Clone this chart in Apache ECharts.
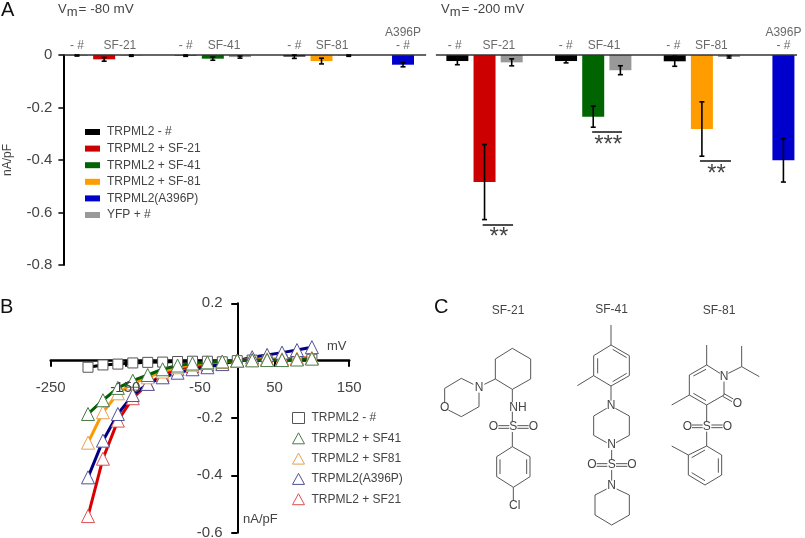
<!DOCTYPE html>
<html><head><meta charset="utf-8">
<style>html,body{margin:0;padding:0;background:#fff}#c{width:805px;height:538px}</style>
<script src="https://cdn.jsdelivr.net/npm/echarts@6/dist/echarts.min.js"></script>
</head><body><div id="c"></div>
<script>
// Panel A: [slot, mean, error]. Slots 0-12 are Vm=-80 mV, slots 14-26 are Vm=-200 mV.
const barsBlack  = [[0,-0.001,0.003],[4,-0.002,0.003],[8,-0.006,0.007],[14,-0.023,0.014],[18,-0.023,0.007],[22,-0.024,0.019]];
const barsRed    = [[1,-0.0165,0.007],[15,-0.484,0.143]];
const barsGreen  = [[5,-0.014,0.006],[19,-0.235,0.04]];
const barsOrange = [[9,-0.023,0.011],[23,-0.282,0.1035]];
const barsBlue   = [[12,-0.037,0.008],[26,-0.401,0.083]];
const barsGrey   = [[2,-0.002,0.003],[6,-0.008,0.004],[10,-0.002,0.003],[16,-0.028,0.0133],[20,-0.058,0.017],[24,-0.0076,0.004]];
const groupLabels = ['- #','SF-21','- #','SF-41','- #','SF-81','A396P\n- #','- #','SF-21','- #','SF-41','- #','SF-81','A396P\n- #'];
const groupSlots  = [0,1.58,4,5.41,8,9.39,12,13.9,15.53,17.99,19.4,21.95,23.35,26];
const sigLabels = ['**','***','**'];
const sigSlots  = [[14.93,16.05],[18.96,20.06],[22.93,24.07]];
const sigLevels = [-0.645,-0.293,-0.404];

// Panel B: I-V curves
const voltage = [-200,-180,-160,-140,-120,-100,-80,-60,-40,-20,0,20,40,60,80,100];
const ivBlack  = [-0.023,-0.015,-0.012,-0.008,-0.006,-0.005,-0.003,-0.002,-0.002,-0.004,0,0.002,0.002,0.004,0.004,0.005];
const ivGreen  = [-0.186,-0.138,-0.095,-0.07,-0.05,-0.03,-0.017,-0.01,-0.006,-0.003,0,0.001,0.002,0.002,0.004,0.007];
const ivOrange = [-0.286,-0.18,-0.114,-0.079,-0.058,-0.038,-0.023,-0.014,-0.008,-0.004,0,0.004,0.005,0.005,0.007,0.01];
const ivBlue   = [-0.407,-0.279,-0.186,-0.12,-0.081,-0.058,-0.042,-0.03,-0.023,-0.012,0,0.012,0.02,0.028,0.037,0.047];
const ivRed    = [-0.542,-0.342,-0.209,-0.131,-0.081,-0.05,-0.03,-0.019,-0.014,-0.007,0,0.004,0.005,0.006,0.008,0.01];

const FONT = 'Liberation Sans', TXT = '#444';

function barSeries(name, color, rows){
  return {type:'bar',name,xAxisIndex:0,yAxisIndex:0,barWidth:22,barGap:'-100%',
    itemStyle:{color},data:rows.map(r=>[r[0],r[1]])};
}
const allBars = [].concat(barsBlack,barsRed,barsGreen,barsOrange,barsBlue,barsGrey);

function ivSeries(name, color, border, vals, symbol, size){
  return {type:'line',name:'B '+name,xAxisIndex:1,yAxisIndex:1,data:voltage.map((v,i)=>[v,vals[i]]),
    symbol,symbolSize:size,showAllSymbol:true,clip:false,
    lineStyle:{color,width:3},itemStyle:{color:'#fff',borderColor:border,borderWidth:1}};
}
function legendB(name,icon,border){
  return {name:'B '+name,icon,itemStyle:{color:'#fff',borderColor:border,borderWidth:1},lineStyle:{opacity:0,width:0}};
}

// Panel C: chemical structures, drawn in a 3x local space
const OX=430, OY=290;
const bonds = [
 // SF-21
 [[247,175],[302,207],[302,267],[247,298],[196,267],[196,207],[247,175]],
 [[130,283],[94,265],[44,295],[44,338]],[[55,360],[94,380],[147,350],[147,308]],[[163,283],[196,267]],
 [[247,298],[247,337]],[[247,365],[247,395]],[[205,407],[238,407]],[[205,415],[238,415]],[[262,407],[296,407]],[[262,415],[296,415]],
 [[247,426],[247,470]],[[247,470],[300,500],[300,560],[250,592],[200,560],[200,500],[247,470]],
 [[290,508],[290,552]],[[210,508],[210,552]],[[250,630],[250,592]],
 // SF-41
 [[543,105],[543,165]],[[543,165],[598,197],[598,257],[543,288],[491,257],[491,197],[543,165]],
 [[503,205],[503,250]],[[548,178],[590,203]],[[548,275],[590,250]],[[491,257],[442,287]],[[543,288],[543,332]],
 [[530,355],[491,378],[491,436],[530,458]],[[556,355],[598,378],[598,436],[558,458]],[[545,480],[545,510]],
 [[500,521],[532,521]],[[500,529],[532,529]],[[558,521],[592,521]],[[558,529],[592,529]],[[545,540],[545,572]],
 [[530,597],[495,615],[495,675],[545,705],[598,675],[598,615],[560,597]],
 // SF-81
 [[870,250],[830,225],[778,255],[778,315],[830,345],[882,315],[882,275]],[[790,258],[828,238]],[[790,310],[828,332]],
 [[830,225],[830,165]],[[895,250],[935,230]],[[935,230],[935,168]],[[935,230],[988,260]],
 [[882,311],[910,327]],[[878,319],[906,335]],[[778,315],[725,345]],[[830,345],[830,395]],
 [[786,405],[818,405]],[[786,413],[818,413]],[[844,405],[878,405]],[[844,413],[878,413]],[[830,425],[830,468]],
 [[830,468],[875,495],[875,555],[825,585],[775,555],[775,495],[830,468]],[[865,505],[865,548]],[[825,572],[785,548]],[[825,480],[785,503]],[[775,495],[725,468]]
];
const atoms = [['N',147,293],['O',44,352],['NH',264,352],['S',250,411],['O',190,411],['O',310,411],['Cl',254,647],
 ['N',543,347],['N',545,465],['S',545,525],['O',486,525],['O',606,525],['N',545,588],
 ['N',882,260],['O',922,340],['S',830,409],['O',772,409],['O',892,409]];

const graphics = [];
bonds.forEach(pts=>graphics.push({type:'polyline',silent:true,
  shape:{points:pts.map(p=>[OX+p[0]/3,OY+p[1]/3])},style:{stroke:'#444',lineWidth:0.9,fill:null}}));
atoms.forEach(a=>graphics.push({type:'text',silent:true,x:OX+a[1]/3,y:OY+a[2]/3,
  style:{text:a[0],font:'12px '+FONT,fill:'#444',align:'center',verticalAlign:'middle'}}));
function txt(text,x,y,size,align,color){
  graphics.push({type:'text',silent:true,x,y,style:{text,font:size+'px '+FONT,fill:color||TXT,align:align||'left',verticalAlign:'middle'}});
}
txt('A',1,10,20,'left','#111');txt('B',0,307,20,'left','#111');txt('C',434,307,20,'left','#111');
txt('SF-21',508,311,12,'center');txt('SF-41',611.5,310,12,'center');txt('SF-81',719,311,12,'center');
txt('mV',327,346,13);txt('nA/pF',243,519,13);
function vm(rest,x){
  graphics.push({type:'text',silent:true,x,y:9,style:{
    text:'{v|V}{m|m}{t|'+rest+'}',verticalAlign:'middle',
    rich:{v:{font:'13px '+FONT,fill:TXT},m:{font:'13px '+FONT,fill:TXT,padding:[6,0,0,0]},t:{font:'13.5px '+FONT,fill:TXT,padding:[0,0,0,1]}}}});
}
vm('= -80 mV',58);vm('= -200 mV',441);

const option = {
  animation:false,backgroundColor:'#fff',textStyle:{fontFamily:FONT},
  graphic:graphics,
  legend:[
   {left:80,top:121,orient:'vertical',itemWidth:15,itemHeight:6,itemGap:4.6,icon:'rect',selectedMode:false,
    textStyle:{fontFamily:FONT,fontSize:12,color:TXT,padding:[0,0,0,2]},
    data:['TRPML2 - #','TRPML2 + SF-21','TRPML2 + SF-41','TRPML2 + SF-81','TRPML2(A396P)','YFP + #']},
   {left:287,top:407,orient:'vertical',itemWidth:12,itemHeight:11,itemGap:8.3,selectedMode:false,
    formatter:n=>n.replace(/^B /,''),
    textStyle:{fontFamily:FONT,fontSize:12,color:TXT,padding:[0,0,0,2]},
    data:[legendB('TRPML2 - #','rect','#555'),legendB('TRPML2 + SF41','triangle','#4a7a4a'),
          legendB('TRPML2 + SF81','triangle','#e8a050'),legendB('TRPML2(A396P)','triangle','#505098'),
          legendB('TRPML2 + SF21','triangle','#e05050')]}
  ],
  grid:[
   {left:63.4,top:55,width:733.6,height:210,outerBoundsMode:'none'},
   {left:50.7,top:303.3,width:298.5,height:229.4,outerBoundsMode:'none'}
  ],
  xAxis:[
   {gridIndex:0,type:'value',min:-0.5,max:26.5,show:false},
   {gridIndex:1,type:'value',position:'bottom',min:-250,max:150,interval:100,splitLine:{show:false},
    axisLine:{onZero:true,lineStyle:{color:'#000',width:2.5}},
    axisTick:{length:6,lineStyle:{color:'#000',width:2}},
    axisLabel:{show:false}},
   {gridIndex:1,type:'value',position:'top',min:-250,max:150,interval:100,splitLine:{show:false},z:6,
    axisLine:{show:false,onZero:false},axisTick:{show:false},
    axisLabel:{fontSize:15,color:TXT,margin:-92,fontFamily:FONT,showMinLabel:true,showMaxLabel:true}}
  ],
  yAxis:[
   {gridIndex:0,type:'value',min:-0.8,max:0,interval:0.2,splitLine:{show:false},
    name:'nA/pF',nameLocation:'middle',nameRotate:90,nameGap:50,
    nameTextStyle:{fontSize:12,color:TXT,fontFamily:FONT},
    axisLine:{show:true,onZero:false,lineStyle:{color:'#000',width:2}},
    axisTick:{show:true,length:5,lineStyle:{color:'#000',width:1.5}},
    axisLabel:{fontSize:15,color:TXT,margin:11,fontFamily:FONT,formatter:v=>v===0?'0':v.toFixed(1)}},
   {gridIndex:1,type:'value',min:-0.6,max:0.2,interval:0.2,splitLine:{show:false},
    axisLine:{show:true,onZero:true,onZeroAxisIndex:1,lineStyle:{color:'#000',width:2}},
    axisTick:{show:true,length:6,lineStyle:{color:'#000',width:2}},
    axisLabel:{fontSize:15,color:TXT,margin:-172,fontFamily:FONT,formatter:v=>Math.abs(v)<1e-9?'':v.toFixed(1)}}
  ],
  series:[
   barSeries('TRPML2 - #','#000',barsBlack),
   barSeries('TRPML2 + SF-21','#cc0000',barsRed),
   barSeries('TRPML2 + SF-41','#006400',barsGreen),
   barSeries('TRPML2 + SF-81','#ff9c00',barsOrange),
   barSeries('TRPML2(A396P)','#0000cc',barsBlue),
   barSeries('YFP + #','#999',barsGrey),
   {type:'custom',name:'errors',xAxisIndex:0,yAxisIndex:0,clip:false,silent:true,z:5,
    data:allBars,encode:{x:0,y:1},
    renderItem(params,api){
      const x=api.value(0),m=api.value(1),e=api.value(2);
      const zero=api.coord([x,0])[1];
      const a=api.coord([x,m+e]),b=api.coord([x,m-e]);
      if(a[1]<zero)a[1]=zero;
      const st={stroke:'#000',lineWidth:1.6};
      const line=(x1,y1,x2,y2)=>({type:'line',shape:{x1,y1,x2,y2},style:st});
      return {type:'group',children:[line(a[0],a[1],b[0],b[1]),line(a[0]-2.5,a[1],a[0]+2.5,a[1]),line(b[0]-2.5,b[1],b[0]+2.5,b[1])]};
    }},
   {type:'scatter',name:'labels',xAxisIndex:0,yAxisIndex:0,clip:false,silent:true,symbolSize:0,
    data:groupLabels.map((l,i)=>({value:[groupSlots[i],0],name:l})),
    label:{show:true,position:'top',distance:3,formatter:'{b}',fontSize:12,color:TXT,fontFamily:FONT,lineHeight:13},
    markLine:{silent:true,symbol:'none',animation:false,label:{show:false},lineStyle:{color:'#333',width:1.5,type:'solid'},
      data:[[{coord:[-0.5,0]},{coord:[12.85,0]}],[{coord:[13.21,0]},{coord:[26.5,0]}]]
        .concat(sigSlots.map((s,i)=>[{coord:[s[0],sigLevels[i]],lineStyle:{color:'#111',width:1.5}},{coord:[s[1],sigLevels[i]]}]))}},
   {type:'scatter',name:'sig',xAxisIndex:0,yAxisIndex:0,clip:false,silent:true,symbolSize:0,
    data:sigLabels.map((l,i)=>({value:[(sigSlots[i][0]+sigSlots[i][1])/2+0.04,sigLevels[i]-0.05],name:l})),
    label:{show:true,position:'inside',formatter:'{b}',fontSize:24,color:'#111',fontFamily:FONT}},
   ivSeries('TRPML2 - #','#000','#555',ivBlack,'rect',10),
   ivSeries('TRPML2 + SF21','#d80000','#e05050',ivRed,'triangle',13),
   ivSeries('TRPML2(A396P)','#000080','#505098',ivBlue,'triangle',13),
   ivSeries('TRPML2 + SF81','#ff9900','#e8a050',ivOrange,'triangle',13),
   ivSeries('TRPML2 + SF41','#006000','#4a7a4a',ivGreen,'triangle',13)
  ]
};
echarts.init(document.getElementById('c'),null,{renderer:'canvas'}).setOption(option);
</script></body></html>
